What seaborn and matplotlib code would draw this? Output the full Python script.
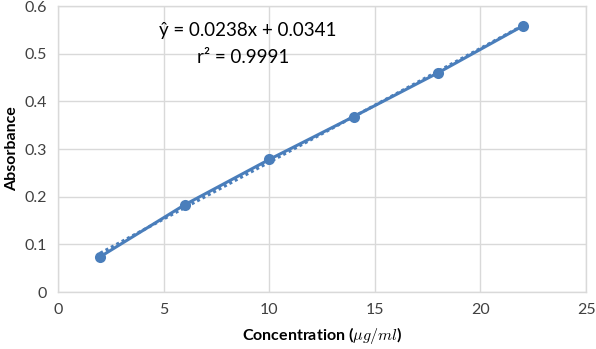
import matplotlib
matplotlib.use("Agg")
import matplotlib.pyplot as plt
import seaborn as sns
import pandas as pd

concentration = [2, 6, 10, 14, 18, 22]
absorbance = [0.074, 0.183, 0.278, 0.368, 0.460, 0.558]
x_ticks = [0, 5, 10, 15, 20, 25]
y_ticks = [0, 0.1, 0.2, 0.3, 0.4, 0.5, 0.6]
equation_text = "ŷ = 0.0238x + 0.0341"
r2_text = "r² = 0.9991"

sns.set_theme(style="whitegrid")
plt.rcParams['font.family'] = ['Lato', 'DejaVu Sans']
plt.rcParams['mathtext.fontset'] = 'cm'

df = pd.DataFrame({"Concentration": concentration, "Absorbance": absorbance})
color = "#4A7EBB"

fig = plt.figure(figsize=(5.96, 3.49), dpi=100)
ax = fig.add_axes([0.0973, 0.1633, 0.8860, 0.8195])

sns.regplot(data=df, x="Concentration", y="Absorbance", ax=ax, ci=None,
            scatter=False, line_kws=dict(color=color, linestyle=(0, (1, 1)), linewidth=2.2))
sns.lineplot(data=df, x="Concentration", y="Absorbance", ax=ax, color=color,
             marker="o", markersize=8, markeredgewidth=0, linewidth=2.2)

ax.set_xlim(0, 25)
ax.set_ylim(0, 0.6)
ax.set_xticks(x_ticks)
ax.set_yticks(y_ticks)
ax.set_xticklabels([str(t) for t in x_ticks])
ax.set_yticklabels(["0" if t == 0 else f"{t:.1f}" for t in y_ticks])
ax.tick_params(axis="both", length=0, labelsize=11.5, colors="#404040", pad=8)
ax.grid(True, color="#D9D9D9", linewidth=1)
for s in ax.spines.values():
    s.set_color("#D9D9D9")
    s.set_linewidth(1)
ax.set_facecolor("white")

ax.set_xlabel(r"Concentration ($\mu g/ml$)", fontsize=11.5, fontweight="bold", color="black", labelpad=6)
ax.set_ylabel("Absorbance", fontsize=11.5, fontweight="bold", color="black", labelpad=4)

ax.text(8.97, 0.549, equation_text, fontsize=13.5, ha="center", va="center", color="black")
ax.text(8.78, 0.493, r2_text, fontsize=13.5, ha="center", va="center", color="black")

fig.savefig("out.png", dpi=100)
